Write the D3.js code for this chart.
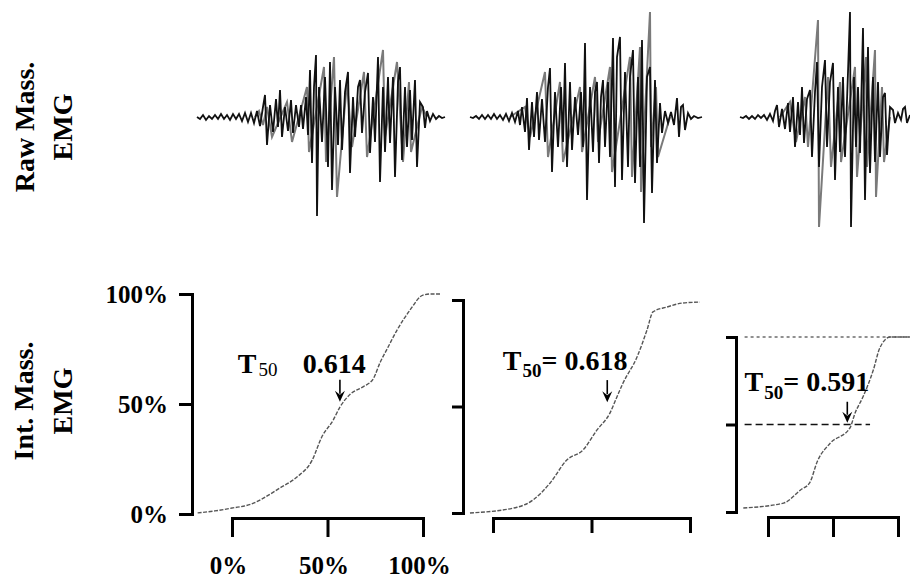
<!DOCTYPE html>
<html>
<head>
<meta charset="utf-8">
<script src="https://cdn.jsdelivr.net/npm/d3@7"></script>
<style>
  html, body { margin: 0; padding: 0; background: #fff; }
  svg { display: block; }
  text { font-family: "Liberation Serif", "Times New Roman", serif; font-weight: bold; fill: #000; }
</style>
</head>
<body>
<svg id="chart" width="910" height="579"></svg>
<script>
// ---------- DATA ----------
// Raw masseter EMG, [time (ms), amplitude (a.u.)], black and grey traces
const raw1Black = [[0,0],[3,-2],[6,2],[9,-3],[12,1],[15,-2],[18,2],[21,-2],[24,3],[27,-2],[30,2],[33,-3],[36,3],[39,-2],[42,3],[45,-4],[48,4],[51,-5],[54,4],[57,-6],[60,6],[63,-9],[66,10],[68,22],[70,-28],[73,12],[76,-15],[79,18],[81,-10],[83,27],[85,-20],[88,10],[91,-14],[94,17],[96,-16],[99,12],[102,-10],[104,12],[106,-12],[109,20],[111,-18],[113,47],[115,-46],[117,30],[119,62],[120,-99],[122,30],[125,-25],[128,40],[131,-50],[133,55],[135,-73],[138,30],[141,-28],[143,37],[145,-33],[148,25],[151,45],[153,-56],[156,20],[158,-20],[161,30],[163,37],[165,-16],[168,25],[171,44],[173,-36],[176,20],[178,-25],[181,60],[183,-65],[186,30],[188,-35],[191,40],[193,-26],[196,40],[198,-60],[201,35],[203,50],[205,-43],[208,30],[210,-30],[213,27],[215,-23],[218,37],[220,-50],[223,15],[226,10],[228,-11],[230,6],[233,-4],[236,3],[239,-2],[242,1],[245,-1],[248,0]];
const raw1Grey = [[58,0],[62,6],[66,-8],[70,10],[75,-20],[90,15],[95,-25],[110,30],[112,-35],[127,50],[129,-45],[137,60],[140,-80],[150,35],[155,-30],[167,45],[170,-40],[186,67],[188,-20],[200,55],[206,-45],[212,35],[214,-35],[225,10],[230,0]];

const raw2Black = [[0,0],[3,-1],[6,1],[9,-2],[12,2],[15,-2],[18,2],[21,-2],[24,3],[27,-2],[30,2],[33,-3],[36,3],[39,-4],[42,4],[45,-5],[48,6],[50,-8],[52,10],[55,-15],[57,19],[59,-33],[62,15],[64,-20],[67,25],[69,-23],[72,18],[75,-25],[78,30],[80,49],[82,-55],[85,25],[88,-30],[91,30],[93,-25],[95,54],[97,-50],[100,35],[102,-33],[105,20],[108,-18],[111,25],[113,-30],[115,74],[117,-83],[120,30],[123,-35],[125,25],[127,35],[129,-46],[131,20],[133,37],[135,-30],[138,35],[140,-40],[143,79],[145,-70],[147,60],[150,80],[152,-63],[155,45],[158,-50],[160,40],[163,67],[165,-66],[168,40],[170,-50],[172,77],[174,-106],[177,40],[180,50],[182,-76],[185,37],[187,-46],[190,14],[192,-16],[195,6],[198,-6],[201,5],[204,-8],[207,19],[209,-20],[211,10],[213,12],[215,-13],[218,4],[221,-2],[224,1],[228,-1],[232,0]];
const raw2Grey = [[40,0],[55,10],[60,-20],[75,45],[78,-40],[90,35],[93,-45],[110,30],[112,-35],[125,40],[128,-25],[140,50],[142,-55],[160,60],[162,-60],[170,70],[171,-75],[180,105],[181,-30],[186,30],[188,-40],[200,0]];

const raw3Black = [[0,0],[3,-1],[6,1],[9,-2],[12,1],[15,-2],[18,2],[21,-1],[24,2],[27,-3],[30,3],[33,-4],[35,6],[37,12],[39,-10],[42,8],[45,-12],[48,14],[50,-15],[53,20],[55,-30],[58,15],[60,-18],[62,30],[64,-26],[67,18],[70,27],[72,-40],[75,25],[77,55],[79,-50],[82,30],[85,57],[87,-30],[90,35],[93,54],[95,-63],[98,30],[100,-35],[103,40],[105,-40],[108,45],[110,105],[111,-110],[114,40],[116,-30],[118,30],[120,-36],[123,89],[125,-83],[128,70],[130,-56],[133,40],[135,-45],[138,35],[140,-40],[143,20],[145,24],[147,-38],[150,10],[153,7],[155,-6],[158,4],[161,-3],[163,8],[165,10],[167,-6],[170,2]];
const raw3Grey = [[40,0],[50,15],[56,-25],[65,20],[68,-30],[78,97],[79,-110],[88,40],[91,-50],[100,35],[101,-45],[115,50],[117,-60],[126,60],[127,-50],[135,67],[136,-80],[142,30],[144,-45],[150,0]];

// Integrated EMG, [normalised time, cumulative fraction]
const int1 = [[-0.18,0.005],[-0.09,0.014],[0.0,0.027],[0.1,0.045],[0.16,0.07],[0.25,0.118],[0.34,0.168],[0.42,0.245],[0.47,0.35],[0.53,0.427],[0.565,0.486],[0.62,0.545],[0.69,0.58],[0.74,0.615],[0.776,0.69],[0.812,0.75],[0.864,0.836],[0.932,0.927],[1.0,0.995],[1.04,1.0],[1.09,1.0]];
const int2 = [[-0.117,0.0],[0.122,0.027],[0.203,0.061],[0.289,0.14],[0.376,0.25],[0.457,0.296],[0.528,0.39],[0.594,0.47],[0.629,0.545],[0.66,0.61],[0.731,0.732],[0.782,0.86],[0.812,0.944],[0.883,0.967],[0.964,0.986],[1.05,0.99]];
const int3 = [[-0.19,0.023],[0.12,0.051],[0.25,0.126],[0.32,0.166],[0.38,0.29],[0.48,0.394],[0.63,0.48],[0.67,0.566],[0.73,0.657],[0.81,0.811],[0.86,0.937],[0.94,1.0],[1.09,1.0]];

const yTicks = [0, 0.5, 1];
const yTickLabels = ["0%", "50%", "100%"];
const xTicks = [0, 0.5, 1];
const xTickLabels = ["0%", "50%", "100%"];
const t50Values = ["0.614", "0.618", "0.591"];

// ---------- DRAW ----------
const svg = d3.select("#chart");

// Row labels
function rowLabel(lines, xs, cy) {
  lines.forEach((s, i) => {
    svg.append("text")
      .attr("transform", `translate(${xs[i]},${cy}) rotate(-90)`)
      .attr("text-anchor", "middle")
      .attr("font-size", 28)
      .text(s);
  });
}
rowLabel(["Raw Mass.", "EMG"], [34, 72], 127);
rowLabel(["Int. Mass.", "EMG"], [33, 72], 401);

// Raw EMG panels
const yRaw = d3.scaleLinear().domain([-100, 100]).range([217, 17]);
const rawPanels = [
  { black: raw1Black, grey: raw1Grey, dom: [0, 248], rng: [197, 445] },
  { black: raw2Black, grey: raw2Grey, dom: [0, 232], rng: [470, 702] },
  { black: raw3Black, grey: raw3Grey, dom: [0, 170], rng: [740, 910] }
];
rawPanels.forEach(p => {
  const x = d3.scaleLinear().domain(p.dom).range(p.rng);
  const line = d3.line().x(d => x(d[0])).y(d => yRaw(d[1]));
  svg.append("path").datum(p.grey).attr("d", line)
    .attr("fill", "none").attr("stroke", "#7a7a7a").attr("stroke-width", 2);
  svg.append("path").datum(p.black).attr("d", line)
    .attr("fill", "none").attr("stroke", "#111").attr("stroke-width", 1.8);
});

// Integrated EMG panels
const intPanels = [
  { data: int1, x: [232, 423], y: [514, 294], yAxisX: 192, xAxisY: 518, yTick: 13, xTick: 19, labels: true,
    arrow: [0.565, 0.61, 0.51] },
  { data: int2, x: [493, 690], y: [513, 300], yAxisX: 463, xAxisY: 518, yTick: 11, xTick: 15, labels: false,
    arrow: [0.58, 0.624, 0.52] },
  { data: int3, x: [768, 898], y: [512, 337], yAxisX: 736, xAxisY: 517, yTick: 10, xTick: 20, labels: false,
    arrow: [0.61, 0.63, 0.51], refLines: true }
];

intPanels.forEach((p, i) => {
  const x = d3.scaleLinear().domain([0, 1]).range(p.x);
  const y = d3.scaleLinear().domain([0, 1]).range(p.y);

  // y axis (bracket)
  const ya = d3.axisLeft(y).tickValues(yTicks).tickSize(p.yTick).tickSizeOuter(p.yTick)
    .tickPadding(11).tickFormat((d, k) => p.labels ? yTickLabels[k] : "");
  const gy = svg.append("g").attr("transform", `translate(${p.yAxisX},0)`).call(ya);
  gy.select(".domain").attr("stroke", "#000").attr("stroke-width", 3);
  gy.selectAll(".tick line").attr("stroke", "#000").attr("stroke-width", 3);
  gy.selectAll(".tick text").attr("font-size", 25).attr("font-family", "Liberation Serif, serif")
    .attr("font-weight", "bold").attr("fill", "#000");

  // x axis (bracket)
  const xa = d3.axisBottom(x).tickValues(xTicks).tickSize(p.xTick).tickSizeOuter(p.xTick)
    .tickPadding(19).tickFormat((d, k) => p.labels ? xTickLabels[k] : "");
  const gx = svg.append("g").attr("transform", `translate(0,${p.xAxisY})`).call(xa);
  gx.select(".domain").attr("stroke", "#000").attr("stroke-width", 3);
  gx.selectAll(".tick line").attr("stroke", "#000").attr("stroke-width", 3);
  gx.selectAll(".tick text").attr("font-size", 25).attr("font-family", "Liberation Serif, serif")
    .attr("font-weight", "bold").attr("fill", "#000").attr("dx", "-4");

  // reference lines for panel 3
  if (p.refLines) {
    svg.append("line").attr("x1", x(-0.18)).attr("x2", x(1.09)).attr("y1", y(1)).attr("y2", y(1))
      .attr("stroke", "#222").attr("stroke-width", 1.2).attr("stroke-dasharray", "3,3");
    svg.append("line").attr("x1", x(-0.18)).attr("x2", x(0.785)).attr("y1", y(0.5)).attr("y2", y(0.5))
      .attr("stroke", "#111").attr("stroke-width", 1.4).attr("stroke-dasharray", "7,4");
  }

  // cumulative curve
  const line = d3.line().curve(d3.curveMonotoneX).x(d => x(d[0])).y(d => y(d[1]));
  svg.append("path").datum(p.data).attr("d", line)
    .attr("fill", "none").attr("stroke", "#555").attr("stroke-width", 1.4).attr("stroke-dasharray", "4,1.5");

  // arrow
  const [ax, ay0, ay1] = p.arrow;
  svg.append("line").attr("x1", x(ax)).attr("x2", x(ax)).attr("y1", y(ay0)).attr("y2", y(ay1) - 8)
    .attr("stroke", "#000").attr("stroke-width", 1.6);
  svg.append("path").attr("d", d3.line()([[x(ax) - 5, y(ay1) - 11], [x(ax), y(ay1)], [x(ax) + 5, y(ay1) - 11], [x(ax), y(ay1) - 7]]) + "Z")
    .attr("fill", "#000");
});

// T50 annotations (positioned in panel data coordinates)
const xs1 = d3.scaleLinear().domain([0, 1]).range([232, 423]);
const ys1 = d3.scaleLinear().domain([0, 1]).range([514, 294]);
const xs2 = d3.scaleLinear().domain([0, 1]).range([493, 690]);
const ys2 = d3.scaleLinear().domain([0, 1]).range([513, 300]);
const xs3 = d3.scaleLinear().domain([0, 1]).range([768, 898]);
const ys3 = d3.scaleLinear().domain([0, 1]).range([512, 337]);

// Panel 1: "T50   0.614"
(function () {
  const t = svg.append("text").attr("x", xs1(0.03)).attr("y", ys1(0.64)).attr("font-size", 28);
  t.append("tspan").text("T");
  t.append("tspan").attr("font-size", 19).attr("font-weight", "normal").attr("dy", 3).attr("dx", 2).text("50");
  svg.append("text").attr("x", xs1(0.37)).attr("y", ys1(0.64)).attr("font-size", 28).text(t50Values[0]);
})();
// Panel 2: "T50 = 0.618"
(function () {
  const t = svg.append("text").attr("x", xs2(0.05)).attr("y", ys2(0.67)).attr("font-size", 28);
  t.append("tspan").text("T");
  t.append("tspan").attr("font-size", 19).attr("dy", 7).attr("dx", 1).text("50");
  t.append("tspan").attr("dy", -7).text("= " + t50Values[1]);
})();
// Panel 3: "T50 = 0.591"
(function () {
  const t = svg.append("text").attr("x", xs3(-0.18)).attr("y", ys3(0.69)).attr("font-size", 28);
  t.append("tspan").text("T");
  t.append("tspan").attr("font-size", 19).attr("dy", 8).attr("dx", 1).text("50");
  t.append("tspan").attr("dy", -8).text("= " + t50Values[2]);
})();
</script>
</body>
</html>
